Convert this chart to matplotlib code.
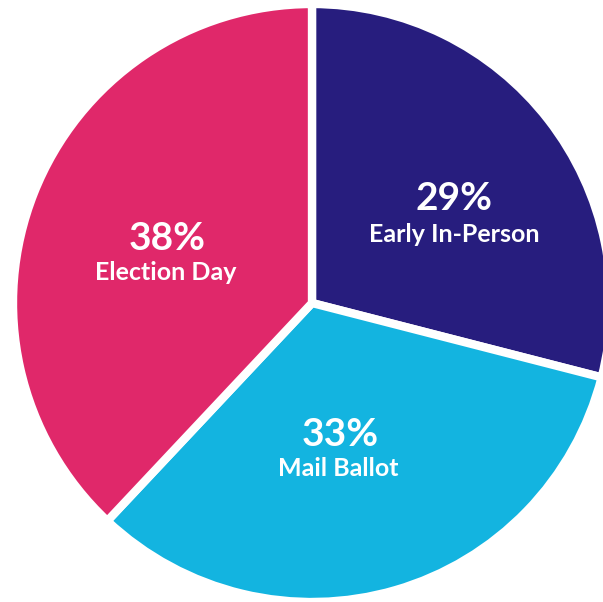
import matplotlib
matplotlib.use("Agg")
import matplotlib.pyplot as plt

categories = ["Early In-Person", "Mail Ballot", "Election Day"]
values = [29, 33, 38]
colors = ["#271D7E", "#13B4E0", "#E0286A"]
pct_labels = ["29%", "33%", "38%"]

W, H = 603, 602
fig = plt.figure(figsize=(W / 100, H / 100), dpi=100)
ax = fig.add_axes([0, 0, 1, 1])

cx, cy, r = 312, H - 303, 299
ax.pie(values, colors=colors, startangle=90, counterclock=False,
       center=(cx, cy), radius=r, frame=True,
       wedgeprops=dict(edgecolor="white", linewidth=6))
ax.set_xlim(0, W)
ax.set_ylim(0, H)
ax.set_aspect("equal")
ax.axis("off")

# label positions (pixel coords from top)
pct_pos = [(454, 198), (340, 434), (167, 238)]
lab_pos = [(454, 235), (338, 468), (166, 273)]
for p, l, (px, py), (lx, ly) in zip(pct_labels, categories, pct_pos, lab_pos):
    ax.text(px, H - py, p, color="white", fontsize=28, fontweight="bold",
            family="Lato", ha="center", va="center")
    ax.text(lx, H - ly, l, color="white", fontsize=18, fontweight="bold",
            family="Lato", ha="center", va="center")

fig.savefig("out.png", dpi=100)
